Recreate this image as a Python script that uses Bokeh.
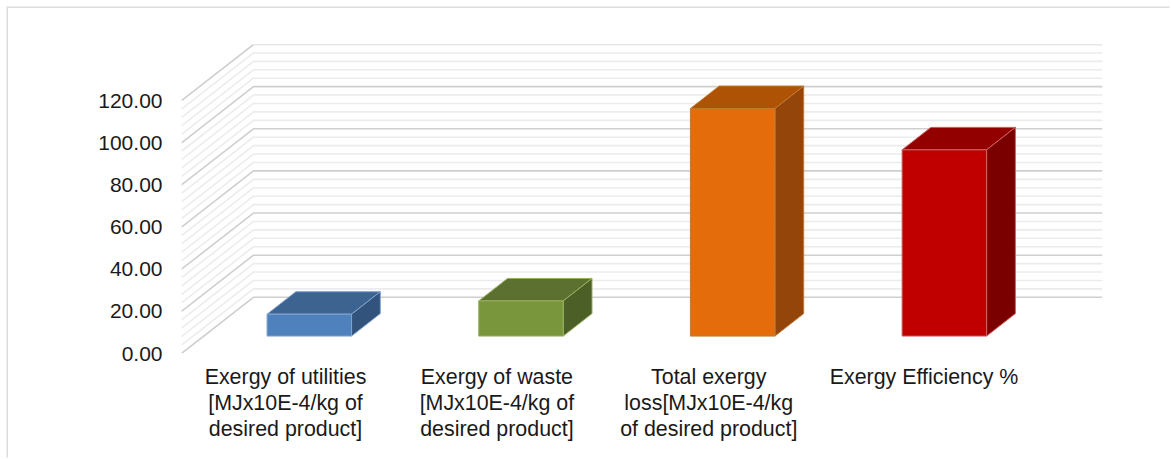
from bokeh.plotting import figure
from bokeh.models import Range1d, FixedTicker, NumeralTickFormatter, LinearAxis
from bokeh.embed import file_html
from bokeh.resources import INLINE

categories = [
    "Exergy of utilities\n[MJx10E-4/kg of\ndesired product]",
    "Exergy of waste\n[MJx10E-4/kg of\ndesired product]",
    "Total exergy\nloss[MJx10E-4/kg\nof desired product]",
    "Exergy Efficiency %",
]
values = [10.4, 16.7, 108.0, 88.4]
major_ticks = [0, 20, 40, 60, 80, 100, 120]
minor_ticks = [v for v in range(0, 121, 4) if v % 20 != 0]
front_colors = ["#4f81bd", "#7a963c", "#e46c0a", "#c00000"]
top_colors = ["#3d6391", "#5c7030", "#ae5206", "#920000"]
side_colors = ["#32547c", "#4c5f26", "#93450a", "#7a0000"]
edge_colors = ["#7fa3d0", "#98b05f", "#c07a30", "#d06060"]
label_offsets = [-0.01, -0.014, -0.016, -0.002]

# oblique projection: the depth axis moves right and up in data units
DEPTH_X = 0.339
DEPTH_Y = 26.67
BAR_HALF = 0.199
BAR_STEP = 0.9973
BAR_SHIFT = -0.003
D0, D1 = 0.31, 0.71
X_END = 4 + DEPTH_X
Y_END = 120 + DEPTH_Y

p = figure(width=1163, height=451, output_backend="svg", toolbar_location=None,
           x_range=Range1d(0, X_END), y_range=Range1d(0, Y_END),
           min_border_left=173, min_border_right=69, min_border_top=36, min_border_bottom=106,
           x_axis_type=None, y_axis_type=None)
p.outline_line_color = None
p.grid.visible = False
p.background_fill_color = "white"
p.border_fill_color = "white"
p.styles = {"margin": "8px 0 0 8px", "box-shadow": "-1.5px -1.5px 0 0 #dcdcdc"}

def grid(ticks, color, width):
    xs = [[0, DEPTH_X, X_END] for _ in ticks]
    ys = [[v, v + DEPTH_Y, v + DEPTH_Y] for v in ticks]
    p.multi_line(xs, ys, line_color=color, line_width=width)

grid(minor_ticks, "#ececec", 1.6)
grid(major_ticks, "#cfcfcf", 1.6)

front_x, front_y, top_x, top_y, side_x, side_y = [], [], [], [], [], []
for i, v in enumerate(values):
    c = i * BAR_STEP + 0.5 + BAR_SHIFT
    l = c - BAR_HALF
    r = c + BAR_HALF
    x0, y0 = D0 * DEPTH_X, D0 * DEPTH_Y
    x1, y1 = D1 * DEPTH_X, D1 * DEPTH_Y
    front_x.append([l + x0, r + x0, r + x0, l + x0])
    front_y.append([y0, y0, y0 + v, y0 + v])
    top_x.append([l + x0, r + x0, r + x1, l + x1])
    top_y.append([y0 + v, y0 + v, y1 + v, y1 + v])
    side_x.append([r + x0, r + x1, r + x1, r + x0])
    side_y.append([y0, y1, y1 + v, y0 + v])

p.patches(top_x, top_y, fill_color=top_colors, line_color=edge_colors, line_width=1)
p.patches(side_x, side_y, fill_color=side_colors, line_color=edge_colors, line_width=1)
p.patches(front_x, front_y, fill_color=front_colors, line_color=edge_colors, line_width=1)

FONT = "Liberation Sans"
yaxis = LinearAxis(ticker=FixedTicker(ticks=major_ticks),
                   formatter=NumeralTickFormatter(format="0.00"))
yaxis.axis_line_color = None
yaxis.major_tick_line_color = None
yaxis.minor_tick_line_color = None
yaxis.major_label_standoff = 13
yaxis.major_label_text_font = FONT
yaxis.major_label_text_font_size = "21px"
yaxis.major_label_text_color = "#1a1a1a"
p.add_layout(yaxis, "left")

label_pos = [i + 0.5 + label_offsets[i] for i in range(len(categories))]
xaxis = LinearAxis(ticker=FixedTicker(ticks=label_pos),
                   major_label_overrides={x: c for x, c in zip(label_pos, categories)})
xaxis.axis_line_color = None
xaxis.major_tick_line_color = None
xaxis.minor_tick_line_color = None
xaxis.major_label_standoff = 5
xaxis.major_label_text_font = FONT
xaxis.major_label_text_font_size = "21.4px"
xaxis.major_label_text_line_height = 1.09
xaxis.major_label_text_color = "#1a1a1a"
p.add_layout(xaxis, "below")

open("out.html", "w").write(file_html(p, INLINE))
